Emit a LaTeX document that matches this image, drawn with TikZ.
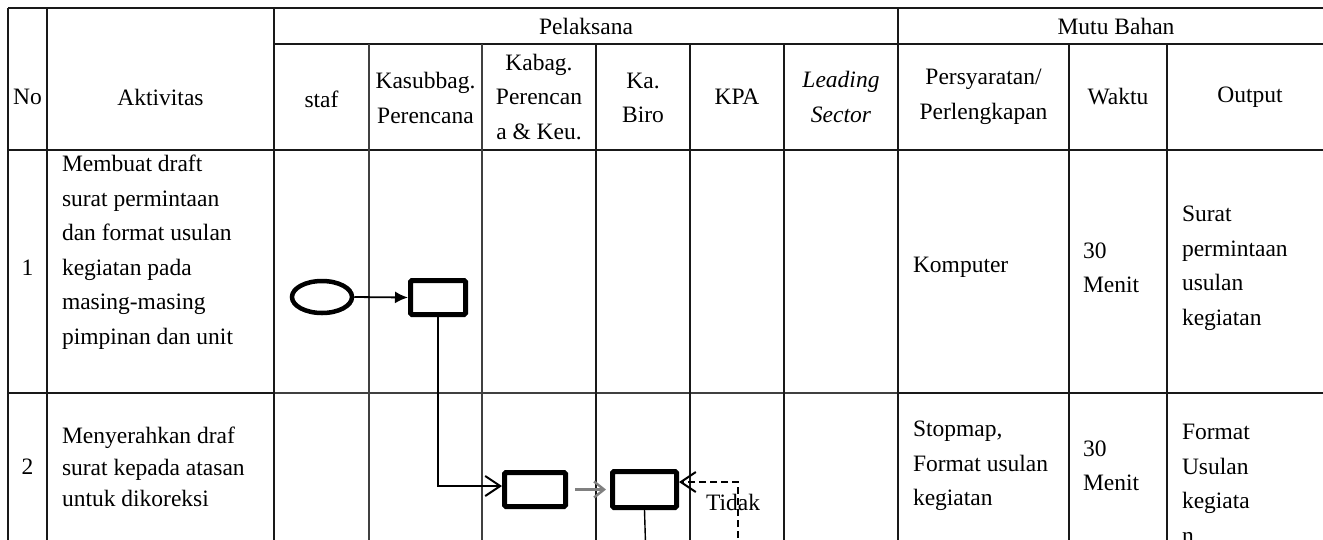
\documentclass[tikz,border=0pt]{standalone}
\usepackage{fontspec}
\setmainfont{Liberation Serif}
\usetikzlibrary{shapes.geometric,arrows.meta}
\tikzset{
  txt/.style={font=\fontsize{23.5}{34.5}\selectfont, inner sep=0pt, outer sep=0pt},
  hdr/.style={txt, align=center, anchor=center},
  cell/.style={txt, align=left, anchor=west},
  grid/.style={line width=1.8pt, black!90},
  gridthin/.style={line width=1.2pt, black!75},
  proc/.style={draw, rectangle, line width=5pt, rounded corners=1.5pt, inner sep=0pt},
  startshape/.style={draw, ellipse, line width=4.5pt, inner sep=0pt, minimum width=60pt, minimum height=32pt},
  flow/.style={line width=1.8pt},
  barb/.style={-{Straight Barb[length=15pt,width=20pt,line width=2pt]}},
}
\begin{document}
\begin{tikzpicture}[x=1pt,y=-1pt]
\useasboundingbox (0,0) rectangle (1323,539);
\clip (0,0) rectangle (1323,539);
% ---- table grid ----
\draw[grid] (8,8) -- (1340,8);
\draw[grid] (274,44) -- (1340,44);
\draw[grid] (8,150) -- (1340,150);
\draw[grid] (8,393) -- (274,393);
\draw[gridthin] (274,393) -- (898,393);
\draw[grid] (898,393) -- (1340,393);
\draw[grid] (8,8) -- (8,560);
\draw[grid] (47,8) -- (47,560);
\draw[grid] (274,8) -- (274,560);
\draw[grid] (898,8) -- (898,560);
\draw[gridthin] (369,44) -- (369,560);
\draw[gridthin] (482,44) -- (482,560);
\draw[grid] (596,44) -- (596,560);
\draw[grid] (690,44) -- (690,560);
\draw[grid] (784,44) -- (784,560);
\draw[grid] (1069,44) -- (1069,560);
\draw[grid] (1167,44) -- (1167,560);
% ---- header texts ----
\node[hdr] (hNo) at (27.5,97) {No};
\node[hdr] (hAkt) at (160.5,97) {Aktivitas};
\node[hdr] (hPel) at (586,26) {Pelaksana};
\node[hdr] (hMutu) at (1116,26) {Mutu Bahan};
\node[hdr] (hStaf) at (321.5,99) {staf};
\node[hdr] (hKasub) at (425.5,98) {Kasubbag.\\Perencana};
\node[hdr] (hKabag) at (539,97) {Kabag.\\Perencan\\a \& Keu.};
\node[hdr] (hKaBiro) at (643,98) {Ka.\\Biro};
\node[hdr] (hKPA) at (737,97) {KPA};
\node[hdr, font=\fontsize{23.5}{34.5}\selectfont\itshape] (hLead) at (841,97) {Leading\\Sector};
\node[hdr] (hPers) at (983.5,97) {Persyaratan/\\Perlengkapan};
\node[hdr] (hWaktu) at (1118,97) {Waktu};
\node[hdr] (hOut) at (1250,97) {Output};
% ---- row 1 ----
\node[hdr] (n1) at (27.5,268) {1};
\node[cell] (a1) at (62,252) {Membuat draft\\surat permintaan\\dan format usulan\\kegiatan pada\\masing-masing\\pimpinan dan unit};
\node[cell] (p1) at (913,267) {Komputer};
\node[cell] (w1) at (1083,268) {30\\Menit};
\node[cell] (o1) at (1182,268) {Surat\\permintaan\\usulan\\kegiatan};
% ---- row 2 ----
\node[hdr] (n2) at (27.5,467) {2};
\node[cell, font=\fontsize{23.5}{31.5}\selectfont] (a2) at (62,467) {Menyerahkan draf\\surat kepada atasan\\untuk dikoreksi};
\node[cell] (p2) at (913,466) {Stopmap,\\Format usulan\\kegiatan};
\node[cell] (w2) at (1083,466) {30\\Menit};
\node[cell] (o2) at (1182,484) {Format\\Usulan\\kegiata\\n};
% ---- flow shapes ----
\node[startshape] (start) at (322,297) {};
\node[proc, minimum width=55pt, minimum height=34pt] (r1) at (438,297.5) {};
\node[proc, minimum width=61pt, minimum height=34pt] (r2) at (535,489.5) {};
\node[proc, minimum width=64pt, minimum height=36pt] (r3) at (644.5,489.5) {};
\node[txt] (tidak) at (733,502) {Tidak};
\coordinate (dEnd) at (738,560);
\coordinate (vEnd) at (646,560);
% ---- connectors ----
\draw[flow, -{Latex[length=13pt,width=12pt]}] (start.east) -- (r1.west);
\draw[flow, barb] (r1.south) |- ([yshift=3.5pt]r2.west);
\draw[line width=2.6pt, black!50, -{Straight Barb[length=10pt,width=16pt,line width=2.4pt]}, shorten <=7pt, shorten >=4pt] (r2.east) -- (r3.west);
\draw[flow, dash pattern=on 7pt off 4pt, barb] (dEnd) |- ([yshift=7.5pt]r3.east);
\draw[line width=1.4pt] (r3.south) -- (vEnd);
\end{tikzpicture}
\end{document}
